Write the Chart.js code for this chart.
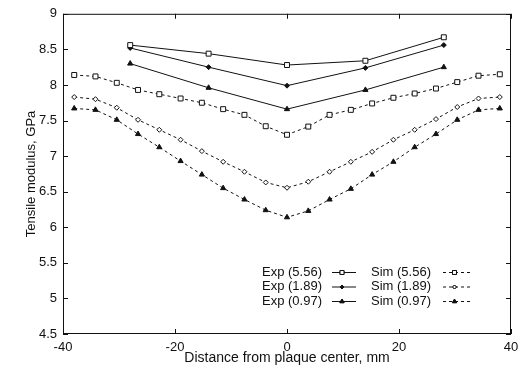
<!DOCTYPE html>
<html>
<head>
<meta charset="utf-8">
<script src="https://cdn.jsdelivr.net/npm/chart.js@4.4.1/dist/chart.umd.min.js"></script>
<style>
  html, body { margin: 0; padding: 0; background: #fff; }
  #wrap { width: 527px; height: 372px; position: relative; }
</style>
</head>
<body>
<div id="wrap"><canvas id="chart"></canvas></div>
<script>
// dados
const expX = [-28, -14, 0, 14, 28];
const exp556 = [8.56, 8.44, 8.28, 8.34, 8.67];
const exp189 = [8.52, 8.25, 7.99, 8.24, 8.56];
const exp097 = [8.30, 7.96, 7.66, 7.93, 8.25];

const simX = [-38, -34.2, -30.4, -26.6, -22.8, -19, -15.2, -11.4, -7.6, -3.8, 0,
              3.8, 7.6, 11.4, 15.2, 19, 22.8, 26.6, 30.4, 34.2, 38];
const sim556 = [8.14, 8.12, 8.03, 7.93, 7.87, 7.81, 7.75, 7.66, 7.58, 7.42, 7.30,
                7.415, 7.58, 7.65, 7.74, 7.82, 7.88, 7.95, 8.04, 8.13, 8.15];
const sim189 = [7.83, 7.80, 7.68, 7.51, 7.37, 7.23, 7.07, 6.92, 6.78, 6.63, 6.555,
                6.64, 6.78, 6.92, 7.06, 7.23, 7.37, 7.52, 7.69, 7.81, 7.83];
const sim097 = [7.67, 7.65, 7.51, 7.31, 7.125, 6.93, 6.74, 6.55, 6.39, 6.24, 6.14,
                6.23, 6.39, 6.54, 6.74, 6.92, 7.125, 7.31, 7.51, 7.65, 7.67];

const legendLabels = ['Exp (5.56)', 'Exp (1.89)', 'Exp (0.97)', 'Sim (5.56)', 'Sim (1.89)', 'Sim (0.97)'];
const yTicks = [4.5, 5, 5.5, 6, 6.5, 7, 7.5, 8, 8.5, 9];
const xTicks = [-40, -20, 0, 20, 40];

const FONT = "'Liberation Sans', Arial, sans-serif";
const INK = '#111';

const toXY = (xs, ys) => xs.map((x, i) => ({ x, y: ys[i] }));

function serie(label, xs, ys, style, radius, filled, dashed) {
  return {
    label,
    data: toXY(xs, ys),
    borderColor: INK,
    borderWidth: 1,
    borderDash: dashed ? [3, 3] : [],
    pointStyle: style,
    pointRadius: radius,
    pointBorderWidth: 1,
    pointBorderColor: INK,
    pointBackgroundColor: filled ? INK : '#fff',
    tension: 0,
    fill: false
  };
}

// ticks para dentro nos quatro lados + caixa
const frame = {
  id: 'frame',
  afterDatasetsDraw(chart) {
    const { ctx, chartArea: a, scales: { x, y } } = chart;
    ctx.save();
    ctx.strokeStyle = INK;
    ctx.lineWidth = 1;
    ctx.strokeRect(a.left + 0.5, a.top + 0.5, a.right - a.left - 1, a.bottom - a.top - 1);
    ctx.beginPath();
    yTicks.forEach(v => {
      const py = Math.round(y.getPixelForValue(v)) + 0.5;
      ctx.moveTo(a.left, py); ctx.lineTo(a.left + 5, py);
      ctx.moveTo(a.right, py); ctx.lineTo(a.right - 5, py);
    });
    xTicks.forEach(v => {
      const px = Math.round(x.getPixelForValue(v)) + 0.5;
      ctx.moveTo(px, a.bottom); ctx.lineTo(px, a.bottom - 5);
      ctx.moveTo(px, a.top); ctx.lineTo(px, a.top + 5);
    });
    ctx.stroke();
    ctx.restore();
  }
};

// legenda estilo gnuplot: texto e amostra à direita
const gnuLegend = {
  id: 'gnuLegend',
  afterDraw(chart) {
    const { ctx } = chart;
    ctx.save();
    ctx.font = '13px ' + FONT;
    ctx.fillStyle = INK;
    ctx.textBaseline = 'middle';
    chart.data.datasets.forEach((ds, i) => {
      const col = Math.floor(i / 3), row = i % 3;
      const tx = col === 0 ? 262 : 371;
      const sx0 = col === 0 ? 332 : 443;
      const sx1 = col === 0 ? 356 : 470;
      const ty = 272 + row * 14.5;
      ctx.fillText(ds.label, tx, ty);
      ctx.beginPath();
      ctx.strokeStyle = INK;
      ctx.lineWidth = 1;
      ctx.setLineDash(ds.borderDash);
      ctx.moveTo(sx0, ty + 0.5); ctx.lineTo(sx1, ty + 0.5);
      ctx.stroke();
      ctx.setLineDash([]);
      Chart.helpers.drawPoint(ctx, {
        pointStyle: ds.pointStyle,
        radius: ds.pointRadius * 0.8,
        borderWidth: 1,
        rotation: 0
      }, (sx0 + sx1) / 2 - 2, ty + 0.5);
      ctx.fillStyle = ds.pointBackgroundColor;
      ctx.fill();
      ctx.stroke();
      ctx.fillStyle = INK;
    });
    ctx.restore();
  }
};

new Chart(document.getElementById('chart'), {
  type: 'line',
  data: {
    datasets: [
      serie(legendLabels[0], expX, exp556, 'rect', 3.5, false, false),
      serie(legendLabels[1], expX, exp189, 'rectRot', 2.5, true, false),
      serie(legendLabels[2], expX, exp097, 'triangle', 3, true, false),
      serie(legendLabels[3], simX, sim556, 'rect', 3.5, false, true),
      serie(legendLabels[4], simX, sim189, 'rectRot', 2.5, false, true),
      serie(legendLabels[5], simX, sim097, 'triangle', 3, true, true)
    ]
  },
  options: {
    responsive: true,
    maintainAspectRatio: false,
    animation: false,
    layout: { padding: { top: 13, right: 16, left: 24, bottom: 5 } },
    plugins: { legend: { display: false }, tooltip: { enabled: false } },
    scales: {
      x: {
        type: 'linear',
        min: -40, max: 40,
        afterBuildTicks: s => { s.ticks = xTicks.map(v => ({ value: v })); },
        afterFit: s => { s.height = 33; },
        grid: { display: false, drawTicks: false },
        border: { display: false },
        ticks: { color: INK, font: { family: FONT, size: 13 }, padding: 6, maxRotation: 0, callback: v => String(v) },
        title: { display: true, text: 'Distance from plaque center, mm', color: INK, font: { family: FONT, size: 14 }, padding: { top: 0, bottom: 0 } }
      },
      y: {
        min: 4.5, max: 9,
        afterBuildTicks: s => { s.ticks = yTicks.map(v => ({ value: v })); },
        afterFit: s => { s.width = 39; },
        grid: { display: false, drawTicks: false },
        border: { display: false },
        ticks: { color: INK, font: { family: FONT, size: 13 }, padding: 6, callback: v => String(v) },
        title: { display: true, text: 'Tensile modulus, GPa', color: INK, font: { family: FONT, size: 13 }, padding: { top: 0, bottom: 0 } }
      }
    }
  },
  plugins: [frame, gnuLegend]
});
</script>
</body>
</html>
